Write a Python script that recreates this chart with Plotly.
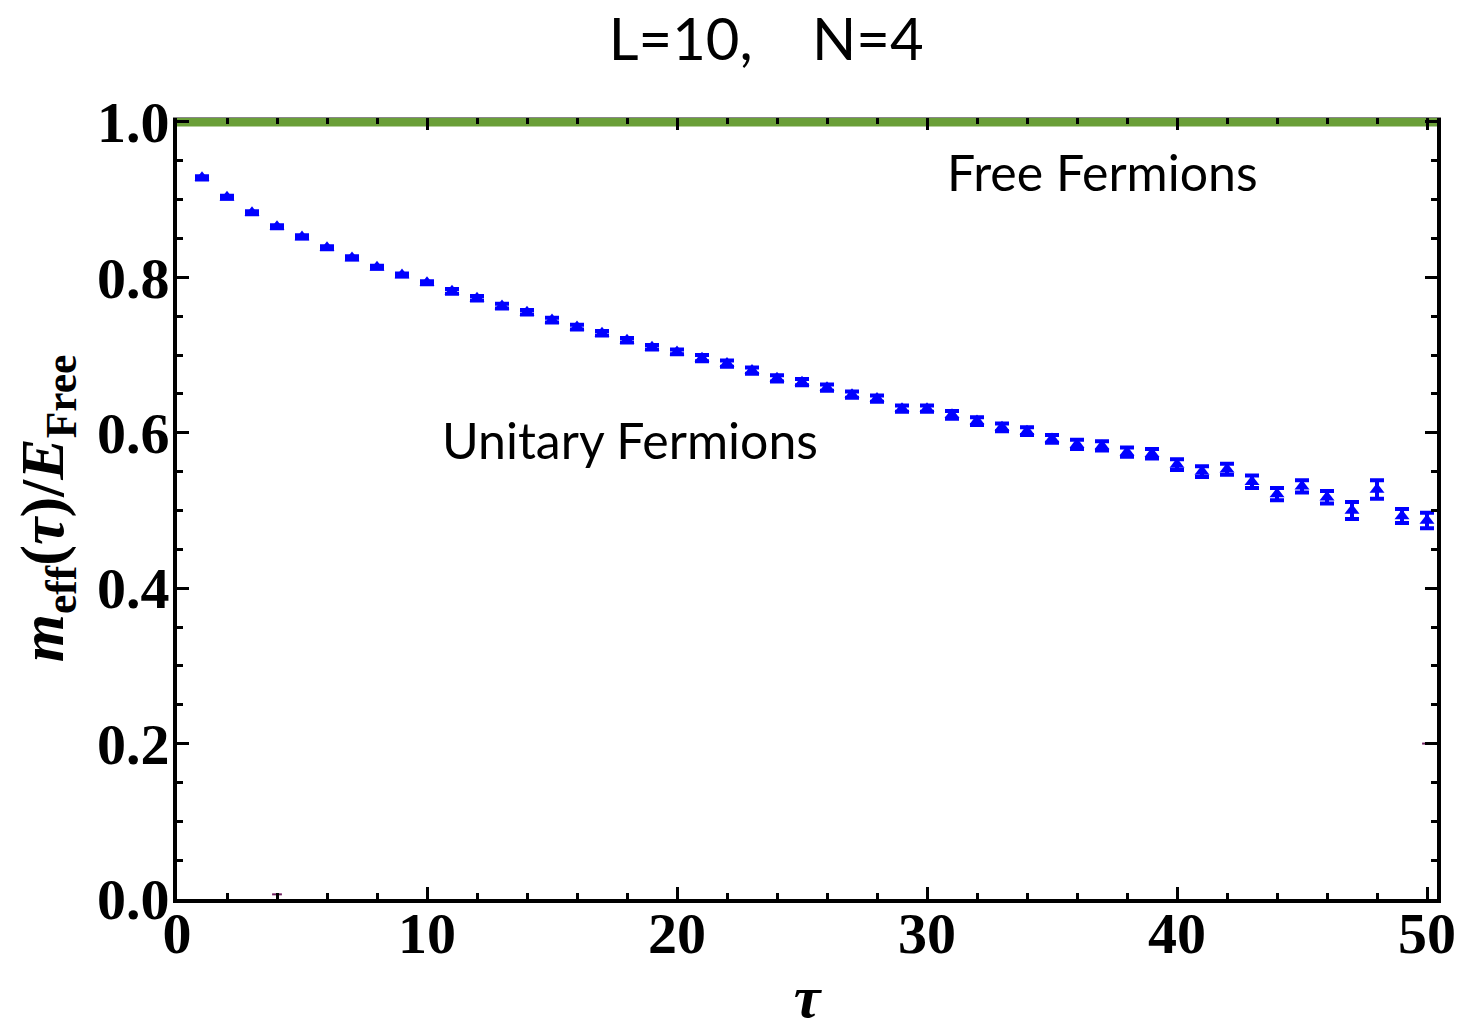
import plotly.graph_objects as go

# Effective mass of the unitary four-fermion system, normalised to the free energy
tau = list(range(1, 51))
m_eff = [0.928, 0.903, 0.883, 0.865, 0.852, 0.838, 0.825, 0.813, 0.803, 0.793,
         0.782, 0.773, 0.763, 0.755, 0.745, 0.736, 0.728, 0.719, 0.710, 0.704,
         0.696, 0.689, 0.680, 0.670, 0.665, 0.658, 0.649, 0.644, 0.631, 0.631,
         0.623, 0.615, 0.607, 0.602, 0.592, 0.585, 0.583, 0.575, 0.573, 0.559,
         0.550, 0.553, 0.537, 0.521, 0.531, 0.517, 0.500, 0.527, 0.493, 0.487]
m_err = [0.002] * 10 + [0.003] * 10 + [0.004] * 10 + [0.005] * 5 + \
        [0.006] * 4 + [0.007] * 3 + [0.008] * 4 + [0.011, 0.012, 0.009, 0.010]

# Free-fermion reference level
free_tau = [0, 50.4]
free_level = [1.0, 1.0]

# Stray points of a further series sitting on the frame edges
edge_tau = [4, 50]
edge_val = [0.006, 0.2]

serif = "Liberation Serif"
sans = "Lato"

fig = go.Figure()

fig.add_trace(go.Scatter(
    x=free_tau, y=free_level, mode="lines", xaxis="x2", yaxis="y",
    line=dict(color="#6a9f38", width=9), showlegend=False, hoverinfo="skip",
))

fig.add_trace(go.Scatter(
    x=edge_tau, y=edge_val, mode="markers",
    marker=dict(symbol="line-ew", size=7, line=dict(color="#6e1f5e", width=2)),
    showlegend=False,
))

fig.add_trace(go.Scatter(
    x=tau, y=m_eff, mode="markers",
    marker=dict(symbol="triangle-up", size=13, color="#0000ff"),
    error_y=dict(type="data", array=m_err, visible=True,
                 color="#0000ff", thickness=4, width=7),
    showlegend=False,
))

tick_font = dict(family=serif, size=58, color="black", weight="bold")

fig.update_layout(
    width=1482, height=1030,
    margin=dict(l=177, r=45, t=118, b=131),
    paper_bgcolor="white", plot_bgcolor="white",
    title=dict(text="L=10,\u00a0\u00a0\u00a0\u00a0N=4", x=0.517, xanchor="center",
               y=0.961, yanchor="middle", font=dict(family=sans, size=58, color="black")),
    xaxis=dict(
        range=[0, 50.4], showgrid=False, zeroline=False, automargin=False,
        showline=True, linecolor="black", linewidth=4,
        ticks="inside", ticklen=12, tickwidth=3, tickcolor="black",
        tick0=0, dtick=10, tickfont=tick_font, ticklabelstandoff=-20,
        minor=dict(dtick=2, ticks="inside", ticklen=6, tickwidth=3, tickcolor="black"),
        title=dict(text="<b><i>τ</i></b>", font=dict(family=serif, size=60, color="black"),
                   standoff=45),
    ),
    xaxis2=dict(
        range=[0, 50.4], overlaying="x", side="top", showgrid=False, zeroline=False,
        showline=True, linecolor="#888888", linewidth=1, automargin=False,
        ticks="inside", ticklen=12, tickwidth=3, tickcolor="black",
        tick0=0, dtick=10, showticklabels=False,
        minor=dict(dtick=2, ticks="inside", ticklen=6, tickwidth=3, tickcolor="black"),
    ),
    yaxis=dict(
        range=[0, 1.005], showgrid=False, zeroline=False, automargin=False,
        showline=True, linecolor="black", linewidth=4, mirror="ticks",
        ticks="inside", ticklen=12, tickwidth=3, tickcolor="black",
        tick0=0, dtick=0.2, tickformat=".1f", tickfont=tick_font,
        ticklabelstandoff=-8,
        minor=dict(dtick=0.05, ticks="inside", ticklen=6, tickwidth=3, tickcolor="black"),
        title=dict(text="<b><i>m</i><sub>eff</sub>(<i>τ</i>)/<i>E</i><sub>Free</sub></b>",
                   font=dict(family=serif, size=62, color="black"), standoff=14),
    ),
    annotations=[
        dict(x=37.0, y=0.936, xref="x", yref="y", text="Free Fermions", showarrow=False,
             font=dict(family=sans, size=50, color="black"), xanchor="center", yanchor="middle"),
        dict(x=18.1, y=0.591, xref="x", yref="y", text="Unitary Fermions", showarrow=False,
             font=dict(family=sans, size=50, color="black"), xanchor="center", yanchor="middle"),
    ],
)

fig.write_html("out.html")
